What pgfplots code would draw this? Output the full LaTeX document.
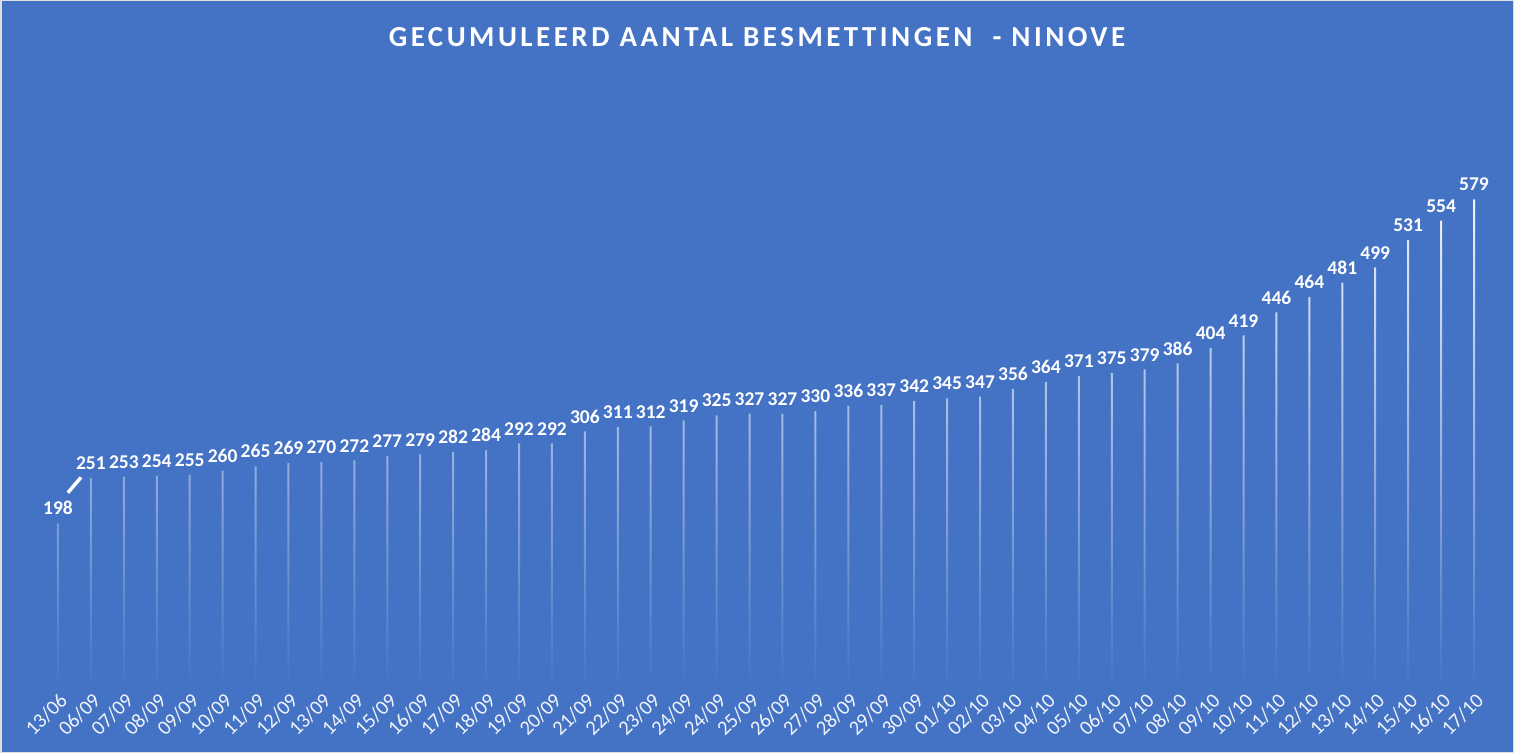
\documentclass[border=0pt]{standalone}
\usepackage{fontspec}
\setmainfont{Carlito}
\newfontfamily\titlefont[LetterSpace=12]{Carlito}
\usepackage{pgfplots}
\pgfplotsset{compat=1.18}
\definecolor{bg}{HTML}{4472C4}
\begin{document}
\begin{tikzpicture}[x=1pt,y=1pt]
\fill[bg] (0,0) rectangle (1514,753);
\draw[gray!25, line width=1.5pt] (0.75,0.75) rectangle (1513.25,752.25);
\useasboundingbox (0,0) rectangle (1514,753);
\node[anchor=base, text=white, font=\titlefont\bfseries\fontsize{29}{32}\selectfont] at (757,706) {GECUMULEERD AANTAL BESMETTINGEN \ - NINOVE};
\begin{axis}[
  at={(41.5pt,61.3pt)}, anchor=south west, scale only axis,
  width=1449pt, height=595.3pt,
  xmin=-0.5, xmax=43.5, ymin=0, ymax=700,
  axis line style={draw=none}, major tick length=0pt,
  ytick=\empty, xtick=data,
  /pgf/number format/assume math mode=true,
  xticklabels={13/06,06/09,07/09,08/09,09/09,10/09,11/09,12/09,13/09,14/09,15/09,16/09,17/09,18/09,19/09,20/09,21/09,22/09,23/09,24/09,24/09,25/09,26/09,27/09,28/09,29/09,30/09,01/10,02/10,03/10,04/10,05/10,06/10,07/10,08/10,09/10,10/10,11/10,12/10,13/10,14/10,15/10,16/10,17/10},
  xticklabel style={rotate=45, anchor=east, inner sep=0pt, yshift=-8pt, xshift=0.5pt, text=white!92!bg, font=\fontsize{20.5}{22}\selectfont},
  nodes near coords,
  nodes near coords style={anchor=south, inner sep=0pt, yshift=8pt, text=white, font=\bfseries\fontsize{19.5}{22}\selectfont},
  clip=false,
]
\addplot[ybar, bar width=2pt, draw=none, top color=white!92!bg, middle color=white!72!bg, bottom color=bg] coordinates {
(0,198) (1,251) (2,253) (3,254) (4,255) (5,260) (6,265) (7,269) (8,270) (9,272)
(10,277) (11,279) (12,282) (13,284) (14,292) (15,292) (16,306) (17,311) (18,312) (19,319)
(20,325) (21,327) (22,327) (23,330) (24,336) (25,337) (26,342) (27,345) (28,347) (29,356)
(30,364) (31,371) (32,375) (33,379) (34,386) (35,404) (36,419) (37,446) (38,464) (39,481)
(40,499) (41,531) (42,554) (43,579)};
\draw[white, line width=3.5pt] (axis cs:0.3,234) -- (axis cs:0.7,252);
\end{axis}
\end{tikzpicture}
\end{document}
